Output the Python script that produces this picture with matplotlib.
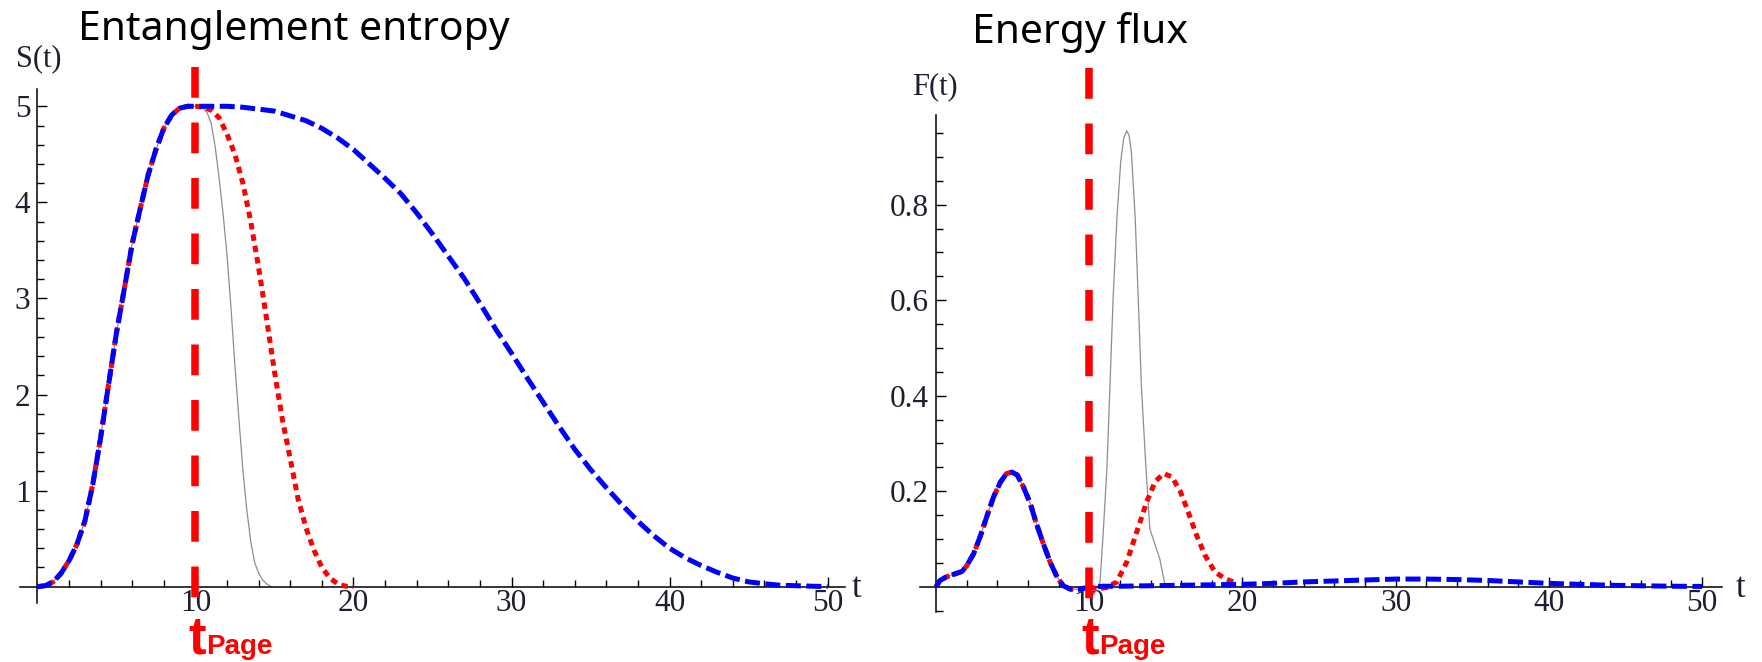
import matplotlib
matplotlib.use("Agg")
import matplotlib.pyplot as plt
import numpy as np
from matplotlib.transforms import blended_transform_factory

# ---------------- data ----------------
# Entanglement entropy S(t): common rise (all three curves coincide up to t_Page)
S_rise_t = [0, 0.5, 1.0, 1.5, 2.0, 2.5, 3.0, 3.5, 4.0, 4.5, 5.0, 5.5, 6.0, 6.5,
            7.0, 7.5, 8.0, 8.5, 9.0, 9.5, 10.0]
S_rise_v = [0, 0.01, 0.05, 0.14, 0.27, 0.44, 0.68, 1.06, 1.55, 2.10, 2.64, 3.10,
            3.57, 3.93, 4.28, 4.55, 4.77, 4.91, 4.98, 5.00, 5.00]

# gray thin curve after t_Page
S_gray_t = [10.5, 10.75, 11.0, 11.25, 11.5, 11.75, 12.0, 12.25, 12.5, 12.75, 13.0,
            13.25, 13.5, 13.75, 14.0, 14.25, 14.5, 14.8]
S_gray_v = [4.98, 4.93, 4.82, 4.58, 4.25, 3.88, 3.45, 2.90, 2.30, 1.75, 1.22,
            0.80, 0.47, 0.25, 0.14, 0.07, 0.03, 0.0]

# red dotted curve after t_Page
S_red_t = [10.5, 11.0, 11.5, 12.0, 12.5, 13.0, 13.5, 14.0, 14.5, 15.0, 15.5, 16.0,
           16.5, 17.0, 17.5, 18.0, 18.5, 19.0, 19.5, 20.0]
S_red_v = [4.99, 4.96, 4.88, 4.71, 4.50, 4.20, 3.80, 3.32, 2.79, 2.24, 1.74, 1.33,
           0.91, 0.61, 0.38, 0.20, 0.09, 0.03, 0.005, 0.0]

# blue dashed curve after t_Page
S_blue_t = [11, 12, 13, 14, 15, 16, 17, 18, 19, 20, 21, 22, 23, 24, 25, 26, 27, 28,
            29, 30, 31, 32, 33, 34, 35, 36, 37, 38, 39, 40, 41, 42, 43, 44, 45, 46,
            47, 48, 49, 50]
S_blue_v = [5.0, 5.0, 4.99, 4.97, 4.95, 4.90, 4.85, 4.77, 4.67, 4.55, 4.40, 4.25,
            4.09, 3.89, 3.67, 3.44, 3.21, 2.95, 2.68, 2.43, 2.17, 1.92, 1.67, 1.43,
            1.22, 1.03, 0.85, 0.68, 0.53, 0.40, 0.30, 0.22, 0.15, 0.09, 0.05, 0.03,
            0.015, 0.01, 0.005, 0.0]

# Energy flux F(t): common hump before t_Page
F_hump_t = [0, 0.25, 0.7, 1.25, 1.7, 2.0, 2.45, 2.9, 3.3, 3.75, 4.2, 4.6, 4.95,
            5.3, 5.7, 6.15, 6.55, 7.0, 7.45, 7.9, 8.3, 8.75, 9.4, 10.0]
F_hump_v = [0, 0.013, 0.021, 0.027, 0.032, 0.044, 0.069, 0.107, 0.146, 0.188,
            0.219, 0.237, 0.240, 0.234, 0.209, 0.174, 0.132, 0.090, 0.051, 0.020,
            0.002, -0.005, -0.005, -0.001]

F_gray_t = [10.3, 10.7, 10.9, 11.15, 11.35, 11.55, 11.8, 12.05, 12.25, 12.45, 12.6,
            12.75, 13.0, 13.2, 13.4, 13.7, 13.95, 14.3, 14.6, 14.9, 15.05]
F_gray_v = [-0.017, 0.01, 0.108, 0.248, 0.42, 0.60, 0.77, 0.89, 0.94, 0.955, 0.945,
            0.91, 0.77, 0.60, 0.42, 0.248, 0.122, 0.087, 0.059, 0.01, 0.0]

F_red_t = [10.5, 11.1, 11.8, 12.45, 13.1, 13.75, 14.3, 14.85, 15.4, 15.95, 16.45,
           17.0, 17.55, 18.2, 18.85, 19.4]
F_red_v = [-0.004, -0.002, 0.010, 0.052, 0.115, 0.178, 0.220, 0.237, 0.230, 0.199,
           0.157, 0.108, 0.066, 0.031, 0.017, 0.010]

F_blue_t = [10.9, 12, 14, 16, 18, 20, 22, 24, 26, 28, 30, 32, 34, 36, 38, 40, 42,
            44, 46, 48, 50]
F_blue_v = [0.001, 0.001, 0.002, 0.003, 0.004, 0.005, 0.007, 0.010, 0.012, 0.014,
            0.016, 0.016, 0.015, 0.013, 0.010, 0.007, 0.005, 0.003, 0.002, 0.001,
            0.0005]

t_page = 10
x_major = [10, 20, 30, 40, 50]
x_major_labels = ["10", "20", "30", "40", "50"]
S_major = [1, 2, 3, 4, 5]
S_major_labels = ["1", "2", "3", "4", "5"]
F_major = [0.2, 0.4, 0.6, 0.8]
F_major_labels = ["0.2", "0.4", "0.6", "0.8"]

titles = ["Entanglement entropy", "Energy flux"]
ylabels = ["S(t)", "F(t)"]

# ---------------- figure ----------------
W, H = 1762, 662
fig = plt.figure(figsize=(W / 100, H / 100), dpi=100)


def px_axes(x0, x1, ytop, ybot):
    return [x0 / W, 1 - ybot / H, (x1 - x0) / W, (ybot - ytop) / H]


axL = fig.add_axes(px_axes(20, 845, 89, 603))
axR = fig.add_axes(px_axes(920, 1722, 115, 612))
axL.set_xlim(-1.1, 51.1)
axL.set_ylim(-0.17, 5.18)
axR.set_xlim(-1.05, 51.3)
axR.set_ylim(-0.053, 0.988)

serif = ["Liberation Serif", "DejaVu Serif"]
tick_col = "#1e1e30"
tick_fs = 22.5

for ax in (axL, axR):
    ax.patch.set_visible(False)
    for s in ("top", "right"):
        ax.spines[s].set_visible(False)
    ax.spines["left"].set_position(("data", 0))
    ax.spines["bottom"].set_position(("data", 0))
    for s in ("left", "bottom"):
        ax.spines[s].set_linewidth(1.1)
        ax.spines[s].set_color("black")
    ax.tick_params(which="both", direction="in", width=1.0, color="black",
                   labelcolor=tick_col)
    ax.tick_params(which="major", length=7.5, labelsize=tick_fs)
    ax.tick_params(which="minor", length=4.8)
    ax.tick_params(axis="x", which="major", pad=1.5)
    ax.tick_params(axis="y", which="major", pad=5)
    ax.set_xticks(x_major, x_major_labels)
    ax.set_xticks([v for v in np.arange(2, 51, 2) if v % 10 != 0], minor=True)

axL.set_yticks(S_major, S_major_labels)
axL.set_yticks([v for v in np.round(np.arange(0.2, 5.01, 0.2), 2) if abs(v - round(v)) > 1e-6],
               minor=True)
axR.set_yticks(F_major, F_major_labels)
axR.set_yticks([v for v in np.round(np.arange(-0.05, 0.96, 0.05), 2)
                if min(abs(v - m) for m in F_major + [0]) > 1e-6], minor=True)
for ax in (axL, axR):
    for lab in ax.get_xticklabels() + ax.get_yticklabels():
        lab.set_fontfamily(serif)

# ---------------- curves ----------------
gray_kw = dict(color="#8e8e8e", lw=0.9, solid_capstyle="butt",
               solid_joinstyle="round", zorder=2)
red_kw = dict(color="#ff0000", lw=3.6, linestyle=(0, (1.3, 1.0)), zorder=3)
blue_kw = dict(color="#0000ff", lw=3.6, linestyle=(0, (3.0, 1.1)), zorder=4)

axL.plot(S_rise_t + S_gray_t, S_rise_v + S_gray_v, **gray_kw)
axL.plot(S_rise_t + S_red_t, S_rise_v + S_red_v, **red_kw)
axL.plot(S_rise_t + S_blue_t, S_rise_v + S_blue_v, **blue_kw)

axR.plot(F_hump_t + F_gray_t, F_hump_v + F_gray_v, **gray_kw)
axR.plot(F_hump_t + F_red_t, F_hump_v + F_red_v, **red_kw)
axR.plot(F_hump_t + F_blue_t, F_hump_v + F_blue_v, **blue_kw)

# vertical t_Page markers (extend beyond the axes)
vline_kw = dict(color="#ff0000", lw=5.4, linestyle=(0, (4.1, 3.3)),
                clip_on=False, zorder=6, solid_capstyle="butt")
axL.plot([t_page, t_page], [5.408, -0.16], **vline_kw)
axR.plot([t_page, t_page], [1.0857, -0.036], **vline_kw)

# ---------------- texts ----------------
sans = ["Noto Sans", "DejaVu Sans"]
bold_sans = ["Liberation Sans", "DejaVu Sans"]
fig.text(293.5 / W, 1 - 40 / H, titles[0], ha="center", va="baseline",
         fontsize=29.4, family=sans, color="black")
fig.text(1079.5 / W, 1 - 43 / H, titles[1], ha="center", va="baseline",
         fontsize=29.4, family=sans, color="black")

fig.text(39 / W, 1 - 59 / H, ylabels[0], ha="center", va="center",
         fontsize=22, family=serif, color=tick_col)
fig.text(935 / W, 1 - 87 / H, ylabels[1], ha="center", va="center",
         fontsize=22, family=serif, color=tick_col)
fig.text(856 / W, 1 - 597 / H, "t", ha="center", va="baseline",
         fontsize=25, family=serif, color=tick_col)
fig.text(1740 / W, 1 - 597 / H, "t", ha="center", va="baseline",
         fontsize=25, family=serif, color=tick_col)

for ax in (axL, axR):
    tr = blended_transform_factory(ax.transData, fig.transFigure)
    ax.text(t_page + 0.65, 1 - 654 / H, "t", transform=tr, ha="right",
            va="baseline", fontsize=38, fontweight="bold", family=bold_sans,
            color="#ff0000", clip_on=False)
    ax.text(t_page + 0.65, 1 - 654 / H, "Page", transform=tr, ha="left",
            va="baseline", fontsize=20, fontweight="bold", family=bold_sans,
            color="#ff0000", clip_on=False)

fig.savefig("out.png", dpi=100)
